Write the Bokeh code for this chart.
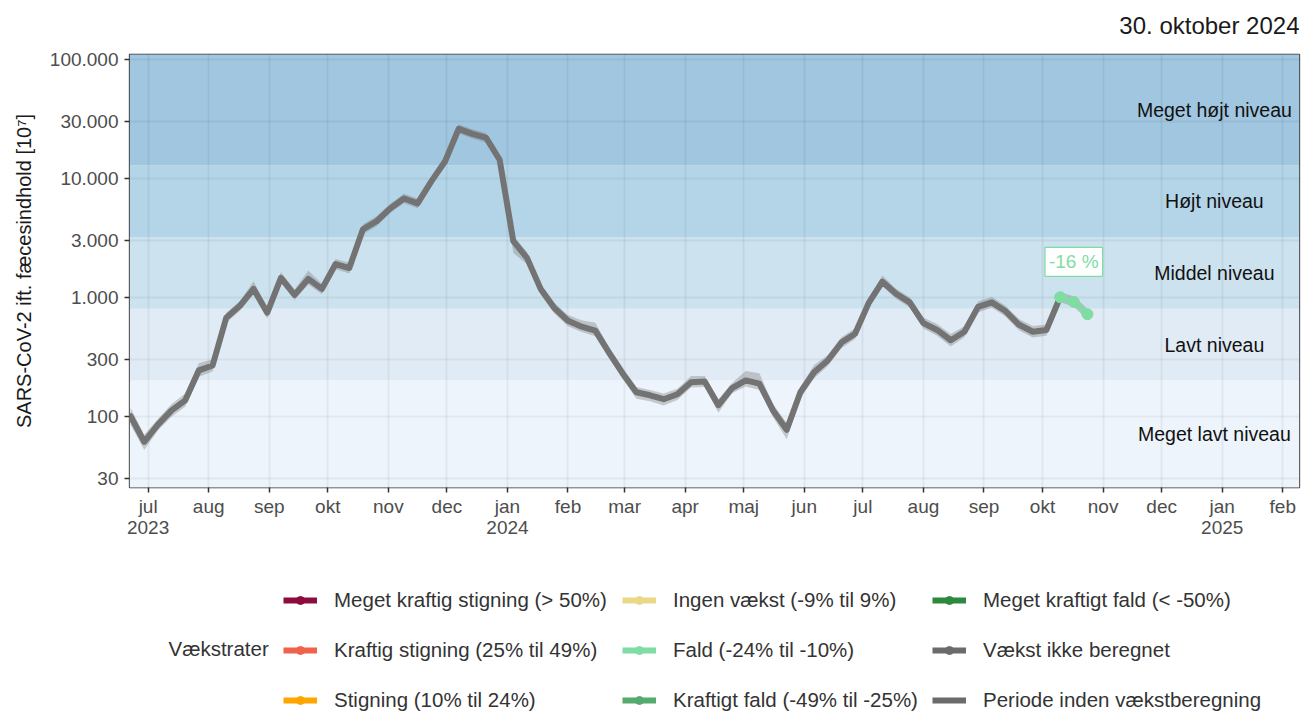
import pandas as pd
from bokeh.plotting import figure
from bokeh.layouts import column
from bokeh.models import ColumnDataSource, FixedTicker, Legend, LegendItem, Label, Range1d
from bokeh.core.properties import value
from bokeh.embed import file_html
from bokeh.resources import INLINE

FONT = "Liberation Sans"

report_date = "30. oktober 2024"
sample_start = "2023-06-22"   # weekly samples

concentration = [100, 61, 85, 112, 136, 243, 267, 673, 847, 1175,
                 741, 1452, 1047, 1425, 1175, 1900, 1760, 3725, 4350, 5580,
                 6760, 6150, 9400, 13800, 26000, 23600, 21900, 14300, 2960, 2140,
                 1175, 812, 635, 566, 524, 343, 229, 159, 150, 139,
                 153, 193, 196, 124, 172, 200, 188, 112, 77, 159,
                 234, 294, 416, 494, 897, 1350, 1070, 905, 606, 531,
                 435, 513, 830, 905, 766, 587, 513, 531, 1000, 915, 720]
conc_lower = [85, 52, 76, 99, 120, 215, 238, 610, 770, 1060,
              660, 1320, 950, 1280, 1060, 1720, 1580, 3380, 3950, 5100,
              6150, 5600, 8600, 12600, 23800, 21600, 20000, 13000, 2350, 1900,
              1060, 730, 570, 510, 470, 310, 206, 140, 134, 123,
              137, 174, 176, 107, 156, 178, 166, 98, 64, 142,
              208, 265, 372, 445, 815, 1230, 970, 820, 545, 475,
              385, 460, 745, 820, 690, 525, 458, 475, 910, 830, 645]
conc_upper = [118, 70, 95, 127, 155, 280, 300, 740, 930, 1360,
              820, 1620, 1160, 1680, 1300, 2100, 1950, 4100, 4800, 6100,
              7400, 6750, 10300, 15100, 28400, 25800, 24000, 15700, 3300, 2400,
              1300, 900, 710, 640, 610, 380, 255, 176, 166, 155,
              170, 218, 218, 139, 190, 240, 230, 126, 88, 176,
              270, 325, 462, 550, 985, 1520, 1180, 1000, 675, 595,
              490, 570, 920, 1010, 850, 655, 572, 590, 1100, 1020, 800]

growth_start_idx = 68
growth_text = "-16 %"
growth_category = "Fald (-24% til -10%)"

level_names = ["Meget lavt niveau", "Lavt niveau", "Middel niveau", "Højt niveau", "Meget højt niveau"]
level_lower = [1, 200, 800, 3200, 12800]
level_upper = [200, 800, 3200, 12800, 1000000]
level_colors = ["#EDF4FB", "#E0EBF5", "#CCE2EF", "#B4D4E8", "#A0C6E0"]
level_label_date = "2024-12-28"

y_ticks = [30, 100, 300, 1000, 3000, 10000, 30000, 100000]
y_tick_labels = ["30", "100", "300", "1.000", "3.000", "10.000", "30.000", "100.000"]

month_ticks = ["2023-07-01", "2023-08-01", "2023-09-01", "2023-10-01", "2023-11-01", "2023-12-01",
               "2024-01-01", "2024-02-01", "2024-03-01", "2024-04-01", "2024-05-01", "2024-06-01",
               "2024-07-01", "2024-08-01", "2024-09-01", "2024-10-01", "2024-11-01", "2024-12-01",
               "2025-01-01", "2025-02-01"]
month_labels = ["jul\n2023", "aug", "sep", "okt", "nov", "dec",
                "jan\n2024", "feb", "mar", "apr", "maj", "jun",
                "jul", "aug", "sep", "okt", "nov", "dec",
                "jan\n2025", "feb"]

legend_title = "Vækstrater"
growth_categories = ["Meget kraftig stigning (> 50%)", "Kraftig stigning (25% til 49%)", "Stigning (10% til 24%)",
                     "Ingen vækst (-9% til 9%)", "Fald (-24% til -10%)", "Kraftigt fald (-49% til -25%)",
                     "Meget kraftigt fald (< -50%)", "Vækst ikke beregnet", "Periode inden vækstberegning"]
growth_colors = ["#8C0C3E", "#F0634A", "#FFA500",
                 "#EAD888", "#7FDDA3", "#55AA6E",
                 "#2C8A3F", "#6B6B6B", "#6B6B6B"]
growth_has_dot = [True, True, True, True, True, True, True, True, False]

x_limits = ("2023-06-21 11:00", "2025-02-09 14:00")
y_limits = (25.2, 109500)


def ms(s):
    return pd.Timestamp(s).value / 1e6


dates = [d.value / 1e6 for d in pd.date_range(sample_start, periods=len(concentration), freq="7D")]
x0, x1 = ms(x_limits[0]), ms(x_limits[1])


def blank_panel(height):
    f = figure(width=1302, height=height, x_range=Range1d(0, 1), y_range=Range1d(0, 1),
               x_axis_location=None, y_axis_location=None, toolbar_location=None,
               output_backend="svg", min_border=0)
    f.outline_line_color = None
    f.grid.visible = False
    f.background_fill_color = "white"
    f.border_fill_color = "white"
    return f


# header panel with the report date (frame aligned with the main frame: x 129..1299)
ph = blank_panel(40)
ph.add_layout(Label(x=1170, y=15, x_units="screen", y_units="screen", text=report_date,
                    text_align="right", text_baseline="middle", text_font=FONT, text_font_size="24px",
                    text_color="#1A1A1A"))

p = figure(width=1302, height=508, x_axis_type="datetime", y_axis_type="log",
           x_range=Range1d(x0, x1), y_range=Range1d(*y_limits),
           output_backend="svg", toolbar_location=None,
           min_border_left=129, min_border_right=3, min_border_top=14, min_border_bottom=61)
p.background_fill_color = "white"
p.border_fill_color = "white"
p.outline_line_color = "#333333"
p.outline_line_width = 1.3

# level bands
bands = ColumnDataSource(dict(left=[x0] * 5, right=[x1] * 5, bottom=level_lower, top=level_upper,
                              color=level_colors))
rb = p.quad(left="left", right="right", bottom="bottom", top="top", fill_color="color",
            line_color=None, source=bands)
rb.level = "image"

# band labels
lab_y = [(max(lo, y_limits[0]) * min(hi, y_limits[1])) ** 0.5 for lo, hi in zip(level_lower, level_upper)]
p.text(x=[ms(level_label_date)] * 5, y=lab_y, text=level_names, text_align="center",
       text_baseline="middle", text_font=value(FONT), text_font_size="19.5px", text_color="#111111")

# ribbon + line
src = ColumnDataSource(dict(x=dates, y=concentration, lo=conc_lower, hi=conc_upper))
p.varea(x="x", y1="lo", y2="hi", source=src, fill_color="#7A7A7A", fill_alpha=0.36)
pre = ColumnDataSource(dict(x=dates[:growth_start_idx + 1], y=concentration[:growth_start_idx + 1]))
p.line("x", "y", source=pre, line_color="#737373", line_width=6, line_join="round", line_cap="round")

gcol = growth_colors[growth_categories.index(growth_category)]
gsrc = ColumnDataSource(dict(x=dates[growth_start_idx:], y=concentration[growth_start_idx:]))
p.line("x", "y", source=gsrc, line_color=gcol, line_width=5, line_join="round")
p.scatter("x", "y", source=gsrc, marker="circle", size=11, fill_color=gcol, line_color=gcol)

mid = growth_start_idx + 1
p.add_layout(Label(x=dates[mid], y=concentration[mid], y_offset=40, text=growth_text,
                   text_align="center", text_baseline="middle", text_font=FONT, text_font_size="19px",
                   text_color=gcol, background_fill_color="white", border_line_color=gcol,
                   border_line_width=1.3, padding=4))

# axes
p.yaxis.ticker = FixedTicker(ticks=y_ticks)
p.yaxis.major_label_overrides = {t: l for t, l in zip(y_ticks, y_tick_labels)}
xt = [ms(m) for m in month_ticks]
p.xaxis.ticker = FixedTicker(ticks=xt)
p.xaxis.major_label_overrides = {t: l for t, l in zip(xt, month_labels)}
for ax in (p.xaxis[0], p.yaxis[0]):
    ax.axis_line_color = None
    ax.major_tick_line_color = "#333333"
    ax.major_tick_line_width = 1.5
    ax.major_tick_out = 5
    ax.major_tick_in = 0
    ax.minor_tick_line_color = None
    ax.major_label_text_font = FONT
    ax.major_label_text_font_size = "19px"
    ax.major_label_text_color = "#4D4D4D"
    ax.major_label_text_line_height = 1.0
p.yaxis.major_label_standoff = 6
p.xaxis.major_label_standoff = 3
p.yaxis.axis_label = "SARS-CoV-2 ift. fæcesindhold [10⁷]"
p.yaxis.axis_label_text_font = FONT
p.yaxis.axis_label_text_font_size = "20px"
p.yaxis.axis_label_text_font_style = "normal"
p.yaxis.axis_label_text_color = "#1A1A1A"
p.yaxis.axis_label_standoff = 12

p.grid.grid_line_color = "#000000"
p.grid.grid_line_alpha = 0.05
p.grid.grid_line_width = 2
p.grid.minor_grid_line_color = None

# legend panel (frame aligned with the main frame)
pl = blank_panel(164)
items = []
for lab, col, dot in zip(growth_categories, growth_colors, growth_has_dot):
    # legend-only renderers: their single point lies outside the visible range
    es = ColumnDataSource(dict(x=[-5], y=[-5]))
    rs = [pl.line("x", "y", source=es, line_color=col, line_width=6)]
    if dot:
        rs.append(pl.scatter("x", "y", source=es, marker="circle", size=9, fill_color=col, line_color=col))
    items.append(LegendItem(label=lab, renderers=rs))

col_x = [154, 493, 803]
for c in range(3):
    leg = Legend(items=items[3 * c:3 * c + 3], location=(col_x[c], 0), orientation="vertical",
                 padding=0, margin=0, spacing=26, glyph_width=34, glyph_height=20, label_height=20,
                 label_standoff=17, label_text_font=FONT, label_text_font_size="20.5px",
                 label_text_color="#333333", label_text_baseline="middle",
                 background_fill_alpha=0, border_line_color=None)
    pl.add_layout(leg)

pl.add_layout(Label(x=39, y=64, x_units="screen", y_units="screen", text=legend_title,
                    text_baseline="middle", text_font=FONT, text_font_size="20.5px", text_color="#333333"))

layout = column(ph, p, pl, spacing=0)
open("out.html", "w").write(file_html(layout, INLINE))
